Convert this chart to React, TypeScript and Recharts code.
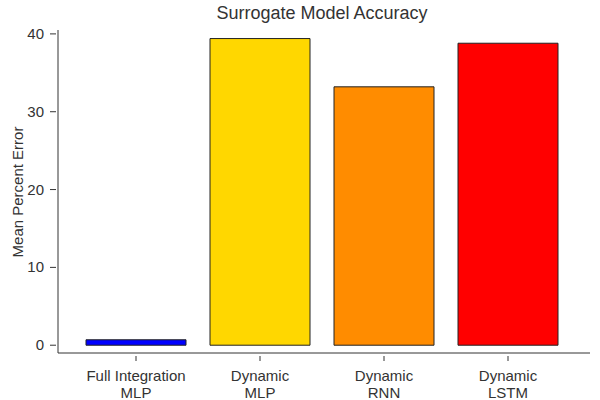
import { Bar, BarChart, Cell, XAxis, YAxis } from "recharts";

const categories = ["Full Integration\nMLP", "Dynamic\nMLP", "Dynamic\nRNN", "Dynamic\nLSTM"];
const errors = [0.7, 39.4, 33.2, 38.8];
const colors = ["#0000ff", "#ffd700", "#ff8c00", "#ff0000"];
const yTicks = [0, 10, 20, 30, 40];

const data = categories.map((name, i) => ({ name, value: errors[i] }));

const font = "'Liberation Sans', Arial, sans-serif";
const ink = "#333";

function XTick({ x, y, payload }: any) {
  const lines = String(payload.value).split("\n");
  return (
    <g>
      <line x1={x} x2={x} y1={y} y2={y - 5} stroke={ink} />
      {lines.map((l, i) => (
        <text key={i} x={x} y={y + 20 + i * 17} textAnchor="middle" fontSize={15} fill={ink} fontFamily={font}>
          {l}
        </text>
      ))}
    </g>
  );
}

function YTick({ x, y, payload }: any) {
  return (
    <g>
      <line x1={x} x2={x + 6} y1={y} y2={y} stroke={ink} />
      <text x={x - 6} y={y + 5} textAnchor="end" fontSize={15} fill={ink} fontFamily={font}>
        {payload.value}
      </text>
    </g>
  );
}

export default function App() {
  return (
    <div style={{ position: "absolute", left: 0, top: 0, width: 600, height: 400, background: "#fff" }}>
      <BarChart width={600} height={400} data={data} margin={{ top: 30, right: 10, left: 0, bottom: 0 }}>
        <text x={322} y={19} textAnchor="middle" fontSize={18} fill={ink} fontFamily={font}>
          Surrogate Model Accuracy
        </text>
        <text
          x={17}
          y={192}
          transform="rotate(-90 17 192)"
          textAnchor="middle"
          dominantBaseline="central"
          fontSize={15}
          fill={ink}
          fontFamily={font}
        >
          Mean Percent Error
        </text>
        <XAxis
          dataKey="name"
          height={47}
          padding={{ left: 16, right: 20 }}
          tickLine={false}
          tick={<XTick />}
          axisLine={{ stroke: ink }}
          interval={0}
        />
        <YAxis
          width={58}
          domain={[-1, 40.5]}
          ticks={yTicks}
          tickLine={false}
          tick={<YTick />}
          axisLine={{ stroke: ink }}
        />
        <Bar dataKey="value" barSize={100} stroke="#222" strokeWidth={1} isAnimationActive={false}>
          {data.map((d, i) => (
            <Cell key={d.name} fill={colors[i]} />
          ))}
        </Bar>
      </BarChart>
    </div>
  );
}
